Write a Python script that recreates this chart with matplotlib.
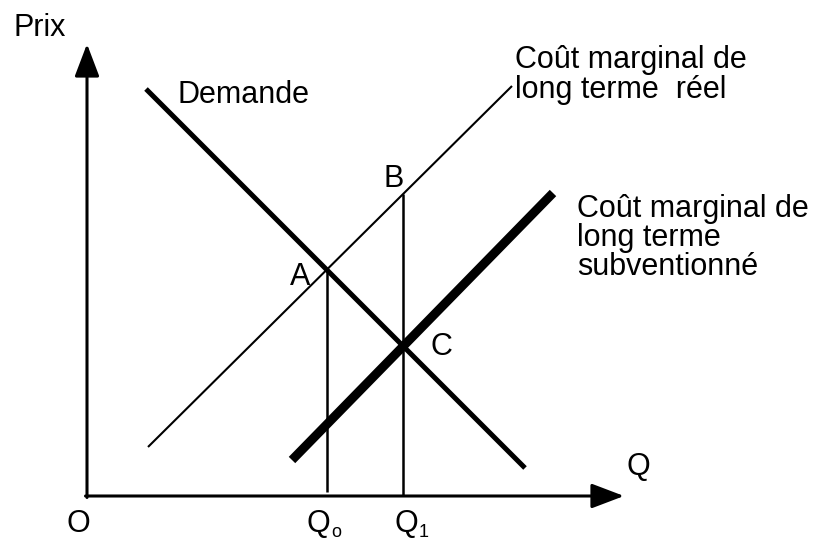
import numpy as np
import matplotlib
matplotlib.use('Agg')
import matplotlib.pyplot as plt

plt.rcParams['font.family'] = ['Liberation Sans', 'DejaVu Sans']

# schema en unites du dessin, origine au coin des axes
axe_x = 537
axe_y = 452
demande_x = [59, 438]
demande_y = [407, 28]
cm_reel_x = [61, 425]
cm_reel_y = [49, 410]
cm_sub_x = [205, 466]
cm_sub_y = [36, 303]
q0_bas = 4


def droite(xs, ys):
    a = (ys[1] - ys[0]) / (xs[1] - xs[0])
    return a, ys[0] - a * xs[0]


def inter(d1, d2):
    x = (d2[1] - d1[1]) / (d1[0] - d2[0])
    return x, d1[0] * x + d1[1]


D = droite(demande_x, demande_y)
R = droite(cm_reel_x, cm_reel_y)
S = droite(cm_sub_x, cm_sub_y)
xa, ya = inter(D, R)
xc, yc = inter(D, S)
yb = R[0] * xc + R[1]

fig = plt.figure(figsize=(8.15, 5.42), dpi=100)
ax = fig.add_axes([0, 0, 1, 1])
ax.set_xlim(-87, 728)
ax.set_ylim(-46, 496)
ax.axis('off')

# axes avec fleches
fl = dict(arrowstyle='-|>,head_length=1.0,head_width=0.38', mutation_scale=20,
          lw=2.2, color='k', shrinkA=0, shrinkB=0)
ax.annotate('', xy=(0, axe_y), xytext=(0, -1.5), arrowprops=fl)
ax.annotate('', xy=(axe_x, 0), xytext=(-1.5, 0), arrowprops=fl)

ax.plot(demande_x, demande_y, color='k', lw=3.6, solid_capstyle='butt')
ax.plot(cm_reel_x, cm_reel_y, color='k', lw=1.5, solid_capstyle='butt')
ax.plot(cm_sub_x, cm_sub_y, color='k', lw=6.5, solid_capstyle='butt')
ax.plot([xa, xa], [ya, q0_bas], color='k', lw=1.8, solid_capstyle='butt')
ax.plot([xc, xc], [yb, 0], color='k', lw=1.8, solid_capstyle='butt')

fs = 22
t = dict(fontsize=fs, ha='left', va='baseline', color='k')
ax.text(-73, 460, 'Prix', **t)
ax.text(90, 393, 'Demande', **t)
ax.text(428, 428, 'Coût marginal de', **t)
ax.text(428, 398, 'long terme  réel', **t)
ax.text(490, 279, 'Coût marginal de', **t)
ax.text(490, 250, 'long terme', **t)
ax.text(490, 221, 'subventionné', **t)
ax.text(203, 211, 'A', **t)
ax.text(297, 309, 'B', **t)
ax.text(343, 141, 'C', **t)
ax.text(-20, -36, 'O', **t)
ax.text(540, 21, 'Q', **t)
ax.text(220, -36, 'Q', **t)
ax.text(244, -41, 'o', fontsize=13, ha='left', va='baseline')
ax.text(308, -36, 'Q', **t)
ax.text(332, -41, '1', fontsize=13, ha='left', va='baseline')

fig.savefig('out.png', dpi=100)
